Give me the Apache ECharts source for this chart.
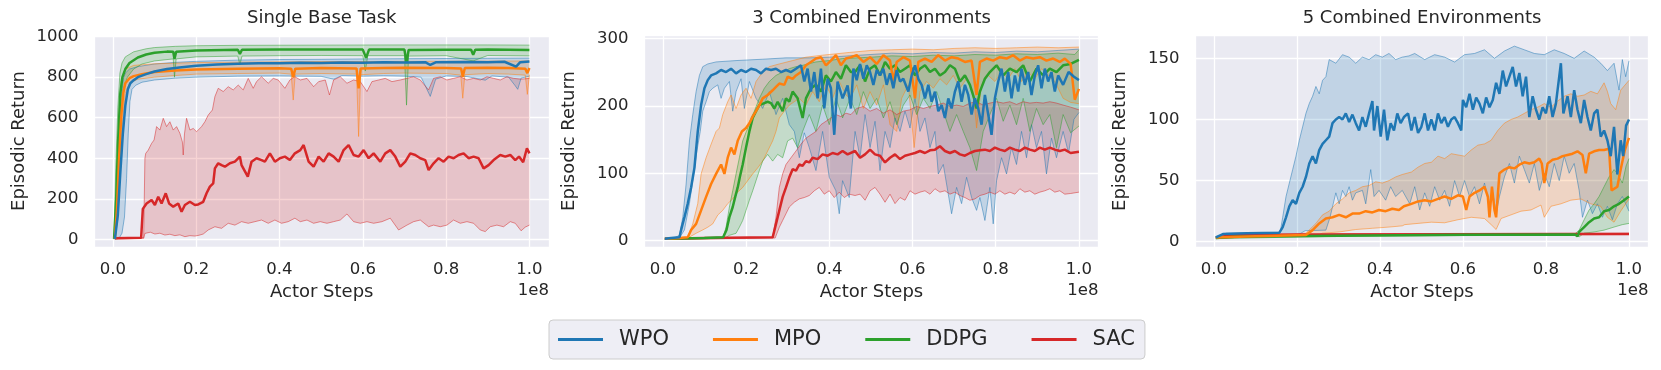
<!DOCTYPE html>
<html>
<head>
<meta charset="utf-8">
<script src="https://cdn.jsdelivr.net/npm/echarts@6/dist/echarts.min.js"></script>
<style>
  html, body { margin: 0; padding: 0; background: #fff; }
  #chart { width: 1661px; height: 370px; }
</style>
</head>
<body>
<div id="chart"></div>
<script>
// panel titles and algorithms
const titles = ['Single Base Task', '3 Combined Environments', '5 Combined Environments'];
const algos = ['WPO', 'MPO', 'DDPG', 'SAC'];
const colors = { WPO: '#1f77b4', MPO: '#ff7f0e', DDPG: '#2ca02c', SAC: '#d62728' };

// ---- Panel 1: Single Base Task  ([actor steps / 1e8, return])
const p1WpoMean = [[0.005,2],[0.012,120],[0.018,330],[0.024,520],[0.03,660],[0.036,740],[0.042,770],[0.05,785],[0.06,800],[0.08,815],[0.1,828],[0.13,840],[0.16,848],[0.2,856],[0.25,862],[0.3,866],[0.35,868],[0.4,869],[0.45,871],[0.5,870],[0.55,872],[0.6,871],[0.65,873],[0.7,872],[0.75,874],[0.762,860],[0.775,873],[0.85,875],[0.9,874],[0.94,876],[0.968,852],[0.978,874],[1.0,877]];
const p1WpoHi = [[0.005,2],[0.01,250],[0.015,520],[0.02,700],[0.025,790],[0.03,820],[0.04,840],[0.06,852],[0.1,865],[0.15,873],[0.2,878],[0.3,884],[0.4,887],[0.5,888],[0.6,890],[0.7,891],[0.8,892],[0.9,893],[1.0,894]];
const p1WpoLo = [[0.005,0],[0.015,5],[0.022,30],[0.028,110],[0.033,300],[0.037,520],[0.041,680],[0.046,740],[0.055,760],[0.07,775],[0.1,786],[0.15,795],[0.2,800],[0.3,805],[0.4,806],[0.5,804],[0.53,790],[0.55,808],[0.6,805],[0.65,807],[0.7,805],[0.74,800],[0.762,705],[0.775,790],[0.8,806],[0.85,803],[0.894,785],[0.91,806],[0.95,800],[0.965,760],[0.972,740],[0.98,795],[1.0,805]];

const p1MpoMean = [[0.005,2],[0.01,150],[0.015,400],[0.02,600],[0.025,720],[0.03,770],[0.04,795],[0.05,805],[0.07,815],[0.1,825],[0.15,833],[0.2,838],[0.3,842],[0.4,844],[0.428,842],[0.433,800],[0.438,842],[0.5,845],[0.585,843],[0.59,745],[0.595,843],[0.65,845],[0.7,846],[0.8,845],[0.836,843],[0.84,802],[0.845,845],[0.9,846],[0.95,845],[0.99,842],[0.995,820],[1.0,845]];
const p1MpoHi = [[0.005,2],[0.01,350],[0.015,620],[0.02,780],[0.03,840],[0.05,858],[0.1,866],[0.2,872],[0.3,874],[0.5,877],[0.7,878],[0.9,879],[1.0,880]];
const p1MpoLo = [[0.005,0],[0.012,100],[0.018,380],[0.024,600],[0.03,720],[0.04,770],[0.06,790],[0.1,800],[0.15,808],[0.2,815],[0.3,818],[0.4,820],[0.428,815],[0.433,687],[0.438,815],[0.5,818],[0.585,815],[0.59,507],[0.595,812],[0.65,818],[0.7,820],[0.8,818],[0.835,810],[0.84,696],[0.845,812],[0.9,818],[0.95,815],[0.99,810],[0.995,715],[1.0,812]];

const p1DdpgMean = [[0.003,2],[0.008,200],[0.013,500],[0.018,720],[0.023,800],[0.03,840],[0.04,870],[0.06,897],[0.08,912],[0.1,920],[0.13,926],[0.145,925],[0.148,890],[0.152,925],[0.2,932],[0.3,935],[0.305,915],[0.31,935],[0.4,937],[0.5,937],[0.6,936],[0.608,895],[0.615,936],[0.7,936],[0.705,870],[0.71,934],[0.8,935],[0.86,935],[0.865,910],[0.87,935],[0.9,936],[1.0,934]];
const p1DdpgHi = [[0.003,2],[0.007,350],[0.012,650],[0.017,820],[0.022,870],[0.03,900],[0.05,925],[0.08,940],[0.1,946],[0.15,952],[0.2,955],[0.3,957],[0.5,958],[0.7,959],[0.9,959],[1.0,958]];
const p1DdpgLo = [[0.003,0],[0.01,120],[0.015,400],[0.02,620],[0.025,740],[0.035,800],[0.05,840],[0.07,865],[0.1,880],[0.145,890],[0.148,800],[0.152,890],[0.2,900],[0.3,904],[0.305,860],[0.31,904],[0.4,906],[0.5,907],[0.6,906],[0.606,830],[0.612,906],[0.7,906],[0.705,662],[0.71,904],[0.8,906],[0.865,880],[0.9,907],[1.0,905]];

const p1SacMean = [[0.005,5],[0.068,8],[0.072,150],[0.081,177],[0.093,194],[0.101,169],[0.109,210],[0.117,177],[0.127,227],[0.135,177],[0.145,161],[0.157,177],[0.165,136],[0.173,169],[0.185,185],[0.197,169],[0.205,172],[0.217,185],[0.225,227],[0.233,260],[0.241,276],[0.245,350],[0.253,375],[0.261,366],[0.269,358],[0.281,375],[0.293,383],[0.305,408],[0.309,366],[0.324,309],[0.333,383],[0.345,400],[0.357,391],[0.365,383],[0.377,424],[0.389,383],[0.401,400],[0.413,408],[0.425,391],[0.437,424],[0.45,440],[0.458,465],[0.47,383],[0.482,358],[0.494,408],[0.506,383],[0.518,424],[0.53,408],[0.542,383],[0.554,440],[0.566,465],[0.578,416],[0.59,408],[0.602,440],[0.614,400],[0.626,424],[0.642,383],[0.654,424],[0.666,440],[0.678,408],[0.69,358],[0.702,383],[0.714,424],[0.726,416],[0.738,400],[0.75,391],[0.758,342],[0.77,375],[0.782,400],[0.794,383],[0.806,408],[0.818,400],[0.83,416],[0.842,424],[0.854,400],[0.866,408],[0.878,400],[0.89,350],[0.902,366],[0.914,391],[0.93,416],[0.942,408],[0.954,416],[0.966,391],[0.975,408],[0.985,380],[0.994,449],[1.0,424]];
const p1SacHi = [[0.005,5],[0.074,8],[0.077,400],[0.079,424],[0.085,440],[0.093,473],[0.099,490],[0.105,556],[0.113,539],[0.121,597],[0.129,556],[0.137,580],[0.145,539],[0.153,556],[0.161,523],[0.167,480],[0.169,416],[0.172,520],[0.177,597],[0.185,539],[0.193,547],[0.201,531],[0.213,556],[0.221,580],[0.229,613],[0.239,638],[0.245,704],[0.253,745],[0.265,729],[0.277,753],[0.289,737],[0.301,761],[0.313,737],[0.325,794],[0.337,745],[0.345,778],[0.357,802],[0.373,770],[0.385,794],[0.397,786],[0.413,745],[0.425,786],[0.437,802],[0.45,786],[0.466,794],[0.482,753],[0.494,778],[0.51,786],[0.52,712],[0.53,786],[0.546,802],[0.562,770],[0.578,786],[0.594,778],[0.61,729],[0.622,778],[0.638,786],[0.654,794],[0.67,778],[0.69,786],[0.706,794],[0.722,802],[0.738,786],[0.758,737],[0.77,794],[0.786,802],[0.802,786],[0.818,794],[0.834,802],[0.85,786],[0.866,794],[0.882,786],[0.898,802],[0.914,794],[0.93,786],[0.946,802],[0.962,794],[0.98,790],[1.0,794]];
const p1SacLo = [[0.005,2],[0.074,5],[0.077,29],[0.09,35],[0.101,26],[0.113,30],[0.125,21],[0.137,25],[0.149,18],[0.161,22],[0.173,13],[0.185,18],[0.197,16],[0.207,20],[0.217,26],[0.229,46],[0.245,62],[0.261,54],[0.277,79],[0.293,70],[0.309,87],[0.325,79],[0.341,87],[0.357,95],[0.373,79],[0.389,95],[0.405,79],[0.421,87],[0.437,104],[0.45,87],[0.466,95],[0.482,79],[0.498,87],[0.514,79],[0.53,87],[0.546,95],[0.562,125],[0.578,87],[0.594,79],[0.61,87],[0.626,79],[0.646,87],[0.666,104],[0.686,46],[0.706,70],[0.722,87],[0.738,95],[0.758,62],[0.77,70],[0.786,62],[0.802,70],[0.818,95],[0.834,79],[0.85,87],[0.866,79],[0.882,46],[0.894,38],[0.906,62],[0.922,70],[0.938,62],[0.954,87],[0.966,79],[0.98,42],[0.99,60],[1.0,70]];

// ---- Panel 2: 3 Combined Environments
const p2WpoMean = [[0.005,3],[0.02,4],[0.04,5],[0.044,16],[0.052,35],[0.06,55],[0.068,79],[0.076,108],[0.084,162],[0.092,201],[0.1,226],[0.108,238],[0.116,245],[0.128,248],[0.14,253],[0.152,250],[0.164,255],[0.176,248],[0.188,253],[0.2,250],[0.212,255],[0.224,253],[0.236,248],[0.248,255],[0.26,253],[0.272,255],[0.284,250],[0.296,253],[0.308,250],[0.32,255],[0.332,260],[0.34,236],[0.348,255],[0.356,221],[0.364,250],[0.372,211],[0.38,255],[0.388,196],[0.396,240],[0.404,226],[0.412,157],[0.42,236],[0.432,211],[0.444,230],[0.452,196],[0.458,255],[0.466,238],[0.474,262],[0.482,240],[0.49,260],[0.498,250],[0.506,231],[0.514,253],[0.522,245],[0.53,255],[0.538,231],[0.546,248],[0.554,226],[0.562,253],[0.57,236],[0.578,240],[0.59,221],[0.598,245],[0.606,260],[0.614,240],[0.622,231],[0.63,211],[0.638,231],[0.646,206],[0.654,221],[0.662,192],[0.67,201],[0.678,182],[0.686,211],[0.694,196],[0.702,221],[0.71,236],[0.718,206],[0.726,231],[0.734,216],[0.742,187],[0.75,211],[0.758,196],[0.766,172],[0.774,216],[0.782,187],[0.79,157],[0.798,211],[0.806,236],[0.814,255],[0.822,221],[0.83,250],[0.838,211],[0.846,245],[0.854,221],[0.862,255],[0.87,231],[0.878,250],[0.886,216],[0.894,245],[0.902,260],[0.91,226],[0.918,255],[0.926,236],[0.934,250],[0.942,221],[0.95,245],[0.962,231],[0.975,250],[0.988,243],[1.0,238]];
const p2WpoHi = [[0.005,3],[0.03,5],[0.04,8],[0.048,35],[0.056,84],[0.064,148],[0.072,187],[0.08,221],[0.088,245],[0.096,258],[0.108,262],[0.128,265],[0.176,267],[0.24,269],[0.296,271],[0.352,271],[0.4,272],[0.448,274],[0.5,276],[0.55,278],[0.6,277],[0.65,279],[0.7,278],[0.75,280],[0.8,279],[0.85,281],[0.9,280],[0.95,282],[1.0,284]];
const p2WpoLo = [[0.005,2],[0.04,4],[0.052,16],[0.064,55],[0.073,94],[0.082,133],[0.09,162],[0.096,192],[0.104,206],[0.112,221],[0.12,226],[0.132,231],[0.14,211],[0.148,226],[0.16,236],[0.168,192],[0.176,221],[0.188,240],[0.196,196],[0.208,236],[0.224,211],[0.24,196],[0.256,221],[0.272,187],[0.288,211],[0.304,172],[0.316,162],[0.328,123],[0.34,160],[0.352,138],[0.368,104],[0.384,162],[0.4,94],[0.416,74],[0.424,40],[0.432,89],[0.448,64],[0.462,162],[0.474,123],[0.486,187],[0.498,138],[0.51,177],[0.522,104],[0.534,162],[0.546,138],[0.558,182],[0.57,162],[0.582,192],[0.594,167],[0.606,211],[0.618,162],[0.63,182],[0.642,138],[0.654,162],[0.662,99],[0.674,113],[0.686,69],[0.694,40],[0.706,79],[0.718,55],[0.73,94],[0.742,64],[0.754,45],[0.762,64],[0.774,30],[0.786,79],[0.794,25],[0.802,89],[0.814,123],[0.826,99],[0.838,138],[0.85,113],[0.862,162],[0.874,123],[0.886,172],[0.898,138],[0.91,162],[0.922,99],[0.934,152],[0.946,123],[0.962,162],[0.975,130],[0.988,180],[1.0,190]];

const p2MpoMean = [[0.005,3],[0.04,4],[0.06,5],[0.068,16],[0.08,25],[0.092,45],[0.104,65],[0.116,84],[0.128,99],[0.14,113],[0.148,99],[0.156,123],[0.164,138],[0.172,128],[0.18,148],[0.19,162],[0.2,167],[0.208,174],[0.216,184],[0.224,192],[0.232,201],[0.24,211],[0.252,216],[0.264,223],[0.272,228],[0.28,233],[0.292,231],[0.3,243],[0.312,240],[0.32,245],[0.332,250],[0.344,260],[0.356,265],[0.368,270],[0.38,272],[0.392,260],[0.404,267],[0.416,275],[0.428,260],[0.44,270],[0.452,272],[0.466,275],[0.482,265],[0.498,272],[0.514,262],[0.53,275],[0.546,267],[0.554,236],[0.562,265],[0.578,272],[0.594,267],[0.606,211],[0.614,265],[0.63,270],[0.646,265],[0.662,275],[0.678,267],[0.694,272],[0.71,270],[0.726,265],[0.742,267],[0.754,216],[0.762,265],[0.778,270],[0.794,267],[0.81,272],[0.826,270],[0.842,275],[0.858,267],[0.874,272],[0.89,270],[0.906,272],[0.922,267],[0.938,270],[0.954,265],[0.966,270],[0.98,262],[0.99,209],[1.0,225]];
const p2MpoHi = [[0.005,3],[0.06,5],[0.072,25],[0.084,55],[0.092,99],[0.104,123],[0.116,143],[0.128,162],[0.136,167],[0.144,187],[0.156,206],[0.164,216],[0.176,196],[0.188,216],[0.2,226],[0.212,211],[0.224,236],[0.24,250],[0.256,258],[0.28,262],[0.312,267],[0.344,272],[0.384,275],[0.416,277],[0.448,279],[0.5,282],[0.55,283],[0.6,284],[0.65,283],[0.7,285],[0.75,286],[0.8,285],[0.85,286],[0.9,287],[0.95,286],[1.0,287]];
const p2MpoLo = [[0.005,2],[0.06,4],[0.08,11],[0.096,16],[0.108,20],[0.12,25],[0.132,38],[0.144,45],[0.156,55],[0.168,62],[0.18,72],[0.192,79],[0.204,89],[0.216,99],[0.228,108],[0.24,118],[0.252,133],[0.264,148],[0.272,162],[0.28,182],[0.292,192],[0.304,201],[0.316,206],[0.328,211],[0.344,201],[0.36,221],[0.376,206],[0.392,231],[0.408,211],[0.424,236],[0.44,216],[0.45,211],[0.466,231],[0.482,196],[0.498,221],[0.514,201],[0.53,231],[0.546,172],[0.562,162],[0.574,211],[0.59,231],[0.604,138],[0.618,221],[0.634,236],[0.65,226],[0.666,240],[0.682,231],[0.698,245],[0.714,226],[0.73,240],[0.746,221],[0.754,167],[0.766,231],[0.782,245],[0.798,236],[0.814,250],[0.83,240],[0.846,255],[0.862,236],[0.878,250],[0.894,240],[0.91,255],[0.926,245],[0.942,236],[0.962,211],[0.98,205],[1.0,203]];

const p2DdpgMean = [[0.005,3],[0.1,4],[0.145,5],[0.153,16],[0.16,35],[0.168,50],[0.174,65],[0.18,79],[0.185,94],[0.192,113],[0.2,138],[0.208,162],[0.216,182],[0.224,192],[0.232,201],[0.244,204],[0.252,206],[0.26,204],[0.268,196],[0.276,206],[0.288,192],[0.296,211],[0.304,206],[0.312,221],[0.324,211],[0.336,182],[0.344,211],[0.356,226],[0.368,231],[0.38,221],[0.392,245],[0.404,236],[0.416,250],[0.428,240],[0.44,260],[0.452,250],[0.462,250],[0.474,260],[0.486,236],[0.498,255],[0.51,260],[0.522,245],[0.534,265],[0.546,255],[0.558,260],[0.57,250],[0.582,255],[0.594,260],[0.606,245],[0.618,255],[0.63,260],[0.642,250],[0.654,255],[0.666,245],[0.678,250],[0.69,260],[0.702,255],[0.714,236],[0.726,245],[0.738,231],[0.748,211],[0.754,196],[0.762,221],[0.774,240],[0.786,250],[0.802,260],[0.818,245],[0.834,255],[0.85,250],[0.866,260],[0.882,236],[0.898,255],[0.914,245],[0.93,255],[0.946,250],[0.962,260],[0.98,262],[1.0,268]];
const p2DdpgHi = [[0.005,3],[0.145,5],[0.152,20],[0.16,50],[0.168,74],[0.176,99],[0.184,123],[0.192,148],[0.204,167],[0.212,182],[0.22,192],[0.232,211],[0.244,226],[0.256,236],[0.272,245],[0.288,250],[0.304,255],[0.32,258],[0.336,260],[0.368,265],[0.4,267],[0.432,270],[0.5,272],[0.55,274],[0.6,273],[0.65,275],[0.7,274],[0.75,276],[0.8,275],[0.85,277],[0.9,276],[0.95,278],[0.99,276],[1.0,283]];
const p2DdpgLo = [[0.005,2],[0.15,4],[0.16,8],[0.176,11],[0.184,20],[0.192,30],[0.2,45],[0.208,60],[0.216,74],[0.224,89],[0.232,104],[0.24,118],[0.252,128],[0.264,118],[0.276,128],[0.288,123],[0.3,148],[0.312,152],[0.324,138],[0.336,162],[0.352,187],[0.368,162],[0.384,201],[0.4,172],[0.416,211],[0.432,182],[0.45,211],[0.466,187],[0.482,221],[0.498,196],[0.514,211],[0.53,182],[0.546,206],[0.562,172],[0.578,201],[0.594,216],[0.61,187],[0.626,211],[0.642,196],[0.658,221],[0.674,192],[0.69,162],[0.706,187],[0.722,162],[0.738,138],[0.754,104],[0.77,162],[0.786,187],[0.802,211],[0.818,177],[0.834,201],[0.85,172],[0.866,211],[0.882,162],[0.898,196],[0.914,172],[0.93,187],[0.946,138],[0.962,187],[0.98,160],[1.0,170]];

const p2SacMean = [[0.005,3],[0.1,4],[0.264,5],[0.272,25],[0.28,45],[0.288,65],[0.296,79],[0.304,94],[0.312,106],[0.32,104],[0.328,113],[0.336,111],[0.344,118],[0.352,116],[0.36,123],[0.372,121],[0.384,128],[0.396,126],[0.408,130],[0.42,128],[0.432,133],[0.444,128],[0.462,133],[0.474,123],[0.486,128],[0.498,135],[0.51,128],[0.522,126],[0.534,116],[0.546,123],[0.558,128],[0.57,121],[0.582,126],[0.594,128],[0.606,130],[0.618,133],[0.63,130],[0.642,134],[0.654,135],[0.666,140],[0.678,133],[0.69,130],[0.702,133],[0.714,128],[0.726,126],[0.738,130],[0.75,133],[0.762,134],[0.774,135],[0.786,133],[0.798,138],[0.81,135],[0.822,133],[0.834,138],[0.846,135],[0.858,133],[0.87,138],[0.882,135],[0.894,133],[0.906,138],[0.918,135],[0.93,138],[0.942,135],[0.954,133],[0.966,135],[0.98,130],[1.0,132]];
const p2SacHi = [[0.005,3],[0.264,5],[0.272,35],[0.28,79],[0.288,99],[0.296,113],[0.308,123],[0.32,133],[0.332,143],[0.344,152],[0.356,157],[0.368,162],[0.38,172],[0.392,177],[0.404,182],[0.416,187],[0.428,184],[0.44,189],[0.452,187],[0.466,196],[0.482,199],[0.498,192],[0.514,196],[0.53,189],[0.546,194],[0.562,187],[0.578,192],[0.594,194],[0.61,199],[0.626,196],[0.642,199],[0.658,201],[0.674,204],[0.69,199],[0.706,201],[0.722,199],[0.738,204],[0.754,206],[0.77,201],[0.786,204],[0.802,206],[0.818,204],[0.834,206],[0.85,202],[0.866,206],[0.882,204],[0.898,205],[0.914,204],[0.93,206],[0.946,204],[0.962,201],[0.98,198],[1.0,194]];
const p2SacLo = [[0.005,2],[0.27,4],[0.28,20],[0.288,30],[0.296,40],[0.304,50],[0.316,57],[0.328,62],[0.34,64],[0.352,67],[0.364,74],[0.376,79],[0.388,69],[0.4,74],[0.412,64],[0.424,72],[0.436,64],[0.448,69],[0.462,67],[0.474,69],[0.486,60],[0.498,74],[0.51,79],[0.522,69],[0.534,57],[0.546,69],[0.558,55],[0.57,64],[0.582,60],[0.594,74],[0.606,69],[0.618,72],[0.63,74],[0.642,69],[0.654,77],[0.666,72],[0.678,74],[0.69,69],[0.702,72],[0.714,67],[0.726,64],[0.738,60],[0.75,62],[0.762,67],[0.774,69],[0.786,72],[0.798,69],[0.81,74],[0.822,69],[0.834,72],[0.846,69],[0.858,77],[0.87,72],[0.882,74],[0.894,69],[0.906,72],[0.918,74],[0.93,77],[0.942,72],[0.954,74],[0.966,69],[0.98,70],[1.0,72]];

// ---- Panel 3: 5 Combined Environments
const p3WpoMean = [[0.005,3.5],[0.022,6.3],[0.08,7],[0.158,7.4],[0.166,12],[0.174,20],[0.182,29],[0.19,34],[0.198,31],[0.206,40],[0.214,45],[0.222,53],[0.23,64],[0.238,70],[0.246,64],[0.254,75],[0.262,80],[0.27,83],[0.278,86],[0.286,97],[0.294,100],[0.302,102],[0.31,100],[0.318,105],[0.326,98],[0.334,104],[0.342,97],[0.35,91],[0.358,102],[0.366,94],[0.374,105],[0.382,115],[0.386,91],[0.394,111],[0.402,86],[0.41,108],[0.418,83],[0.426,97],[0.434,91],[0.442,105],[0.45,97],[0.458,102],[0.468,105],[0.476,91],[0.484,102],[0.492,89],[0.5,94],[0.508,105],[0.516,91],[0.524,100],[0.532,91],[0.54,105],[0.548,97],[0.556,102],[0.564,94],[0.572,100],[0.58,102],[0.588,97],[0.596,91],[0.6,116],[0.608,110],[0.616,121],[0.624,108],[0.632,118],[0.64,113],[0.648,105],[0.656,118],[0.664,110],[0.672,116],[0.68,130],[0.688,121],[0.696,140],[0.704,127],[0.712,135],[0.72,143],[0.728,127],[0.736,138],[0.744,119],[0.752,135],[0.76,102],[0.768,119],[0.776,108],[0.784,100],[0.792,110],[0.8,105],[0.808,119],[0.816,102],[0.824,113],[0.832,135],[0.836,146],[0.842,105],[0.852,119],[0.86,102],[0.868,124],[0.876,108],[0.884,97],[0.892,116],[0.9,102],[0.908,91],[0.916,105],[0.924,108],[0.932,86],[0.94,91],[0.948,83],[0.956,70],[0.964,94],[0.972,55],[0.98,83],[0.986,70],[0.993,95],[1.0,100]];
const p3WpoHi = [[0.005,4],[0.03,7],[0.16,7.8],[0.166,20],[0.174,37],[0.182,48],[0.19,59],[0.198,70],[0.206,83],[0.214,94],[0.222,105],[0.23,113],[0.238,119],[0.246,127],[0.254,121],[0.262,132],[0.27,135],[0.278,149],[0.294,146],[0.31,153],[0.326,151],[0.342,146],[0.358,151],[0.374,149],[0.39,153],[0.406,151],[0.422,154],[0.438,149],[0.454,151],[0.47,152],[0.484,154],[0.508,149],[0.532,153],[0.556,151],[0.58,147],[0.604,153],[0.628,154],[0.652,157],[0.676,150],[0.7,156],[0.724,160],[0.748,157],[0.772,154],[0.796,153],[0.82,157],[0.844,154],[0.868,150],[0.892,156],[0.916,151],[0.932,146],[0.948,140],[0.964,146],[0.976,124],[0.984,149],[0.992,135],[1.0,148]];
const p3WpoLo = [[0.005,3],[0.1,4.5],[0.2,5],[0.22,9],[0.27,9.5],[0.28,20],[0.294,40],[0.302,31],[0.31,42],[0.318,37],[0.326,45],[0.334,34],[0.342,40],[0.358,42],[0.366,31],[0.378,59],[0.386,37],[0.398,42],[0.414,34],[0.426,45],[0.438,37],[0.454,42],[0.472,31],[0.484,45],[0.496,26],[0.508,40],[0.52,29],[0.532,45],[0.544,34],[0.556,42],[0.568,29],[0.58,50],[0.592,37],[0.604,50],[0.616,37],[0.628,45],[0.64,31],[0.652,48],[0.664,29],[0.672,40],[0.68,23],[0.688,37],[0.7,53],[0.712,64],[0.724,48],[0.736,70],[0.748,59],[0.76,48],[0.772,64],[0.784,42],[0.796,56],[0.808,45],[0.82,64],[0.832,50],[0.844,70],[0.856,56],[0.868,64],[0.88,42],[0.888,20],[0.9,34],[0.912,23],[0.924,31],[0.936,20],[0.948,29],[0.96,18],[0.972,31],[0.984,37],[1.0,25]];

const p3MpoMean = [[0.005,3.5],[0.1,4.5],[0.222,5.5],[0.238,9.5],[0.254,15],[0.27,19],[0.286,20],[0.302,22],[0.318,20],[0.334,23],[0.35,23],[0.366,25],[0.382,24],[0.398,26],[0.414,25],[0.43,27],[0.446,26],[0.458,29],[0.476,31],[0.492,33],[0.508,34],[0.524,33],[0.54,35],[0.556,37],[0.572,35],[0.588,38],[0.6,37],[0.608,26],[0.616,37],[0.628,40],[0.64,42],[0.652,45],[0.66,37],[0.664,20],[0.67,45],[0.676,26],[0.68,20],[0.688,56],[0.7,59],[0.712,61],[0.724,60],[0.736,63],[0.748,65],[0.76,64],[0.772,65],[0.784,68],[0.79,64],[0.796,48],[0.804,64],[0.816,67],[0.828,68],[0.84,70],[0.852,71],[0.864,72],[0.876,74],[0.888,71],[0.896,56],[0.904,72],[0.916,74],[0.928,75],[0.94,75],[0.952,76],[0.958,42],[0.972,45],[0.98,59],[0.99,75],[1.0,85]];
const p3MpoHi = [[0.005,3.5],[0.222,7],[0.246,15],[0.262,22],[0.278,25],[0.294,31],[0.31,35],[0.326,40],[0.342,42],[0.358,45],[0.374,46],[0.39,49],[0.406,48],[0.422,50],[0.438,53],[0.454,55],[0.476,57],[0.492,61],[0.508,64],[0.524,65],[0.54,70],[0.556,68],[0.572,72],[0.588,71],[0.604,70],[0.62,75],[0.636,79],[0.652,80],[0.668,83],[0.684,91],[0.7,97],[0.716,100],[0.732,102],[0.748,105],[0.764,108],[0.78,110],[0.796,113],[0.812,110],[0.828,115],[0.844,119],[0.86,121],[0.876,119],[0.892,120],[0.908,123],[0.924,121],[0.94,130],[0.948,123],[0.956,113],[0.968,108],[0.98,124],[1.0,132]];
const p3MpoLo = [[0.005,3],[0.25,5],[0.262,7],[0.302,8],[0.342,10],[0.382,11],[0.422,12],[0.454,13],[0.46,14],[0.492,15],[0.524,16],[0.556,15.5],[0.588,18],[0.62,20],[0.652,19],[0.668,14],[0.68,10],[0.692,19],[0.716,22],[0.74,25],[0.764,26],[0.788,30],[0.796,20],[0.812,29],[0.836,31],[0.86,34],[0.884,35],[0.908,31],[0.932,29],[0.948,20],[0.964,16],[0.98,25],[1.0,35]];

const p3DdpgMean = [[0.005,3],[0.05,4],[0.3,5],[0.6,5.8],[0.87,6],[0.876,4.5],[0.88,8],[0.892,12],[0.904,16],[0.916,19],[0.928,20],[0.94,25],[0.952,26],[0.964,29],[0.976,31],[0.988,34],[1.0,37]];
const p3DdpgHi = [[0.005,3.5],[0.3,5.5],[0.87,6.5],[0.88,9.5],[0.892,18],[0.904,26],[0.916,31],[0.928,37],[0.94,45],[0.952,53],[0.964,59],[0.972,56],[0.984,48],[0.993,62],[1.0,68]];
const p3DdpgLo = [[0.005,2.5],[0.3,4.5],[0.87,5.5],[0.88,4],[0.892,7],[0.916,8],[0.94,9.5],[0.964,12],[0.984,14],[1.0,15]];

const p3SacMean = [[0.005,3.5],[0.05,5.5],[0.3,6],[0.6,6.2],[1.0,6.4]];
const p3SacHi = [[0.005,4],[0.05,6],[0.3,6.5],[0.6,6.8],[1.0,7]];
const p3SacLo = [[0.005,3],[0.05,5],[0.3,5.5],[0.6,5.8],[1.0,6]];

// layout of the three panels (pixels) and their y ranges
const panels = [
  { left: 94.5, width: 454.5, ymin: -38, ymax: 1008, ystep: 200,
    runs: { WPO: [p1WpoMean, p1WpoLo, p1WpoHi], MPO: [p1MpoMean, p1MpoLo, p1MpoHi], DDPG: [p1DdpgMean, p1DdpgLo, p1DdpgHi], SAC: [p1SacMean, p1SacLo, p1SacHi] } },
  { left: 644.5, width: 454, ymin: -9.3, ymax: 304.9, ystep: 100,
    runs: { WPO: [p2WpoMean, p2WpoLo, p2WpoHi], MPO: [p2MpoMean, p2MpoLo, p2MpoHi], DDPG: [p2DdpgMean, p2DdpgLo, p2DdpgHi], SAC: [p2SacMean, p2SacLo, p2SacHi] } },
  { left: 1195.5, width: 453, ymin: -4.3, ymax: 169.1, ystep: 50,
    runs: { WPO: [p3WpoMean, p3WpoLo, p3WpoHi], MPO: [p3MpoMean, p3MpoLo, p3MpoHi], DDPG: [p3DdpgMean, p3DdpgLo, p3DdpgHi], SAC: [p3SacMean, p3SacLo, p3SacHi] } }
];

const FONT = '"DejaVu Sans", sans-serif';
const TXT = '#262626';
const TOP = 35, HEIGHT = 212;

const onStep = (v, step) => Math.abs(v / step - Math.round(v / step)) < 1e-6;

const grid = [], xAxis = [], yAxis = [], graphic = [];
const bands = [], thin = [], means = [];

panels.forEach((p, i) => {
  grid.push({ left: p.left, top: TOP, width: p.width, height: HEIGHT, show: true,
    backgroundColor: '#eaeaf2', borderWidth: 0, outerBoundsMode: 'none' });

  xAxis.push({ gridIndex: i, type: 'value', min: -0.044, max: 1.047, minInterval: 0.2, maxInterval: 0.2,
    name: 'Actor Steps', nameLocation: 'middle', nameGap: 36,
    nameTextStyle: { fontSize: 18, color: TXT, fontFamily: FONT },
    axisLine: { show: false }, axisTick: { show: false },
    splitLine: { lineStyle: { color: '#ffffff', width: 1.3 } },
    axisLabel: { margin: 14, fontSize: 16.5, color: TXT, fontFamily: FONT,
      formatter: v => onStep(v, 0.2) ? v.toFixed(1) : '' } });

  yAxis.push({ gridIndex: i, type: 'value', min: p.ymin, max: p.ymax, minInterval: p.ystep, maxInterval: p.ystep,
    name: 'Episodic Return', nameLocation: 'middle', nameGap: 66, nameRotate: 90,
    nameTextStyle: { fontSize: 18, color: TXT, fontFamily: FONT },
    axisLine: { show: false }, axisTick: { show: false },
    splitLine: { lineStyle: { color: '#ffffff', width: 1.3 } },
    axisLabel: { margin: 16, fontSize: 16.5, color: TXT, fontFamily: FONT,
      formatter: v => onStep(v, p.ystep) ? String(Math.round(v)) : '' } });

  // panel title and the x scale note
  graphic.push({ type: 'text', x: p.left + p.width / 2, y: 18,
    style: { text: titles[i], fill: TXT, font: '18px ' + FONT, align: 'center', verticalAlign: 'middle' } });
  graphic.push({ type: 'text', x: p.left + p.width, y: 291,
    style: { text: '1e8', fill: TXT, font: '16.5px ' + FONT, align: 'right', verticalAlign: 'middle' } });

  algos.forEach(name => {
    const [mean, lo, hi] = p.runs[name];
    const c = colors[name];
    bands.push({ type: 'custom', name: name + ' band', xAxisIndex: i, yAxisIndex: i, silent: true,
      data: [[0.5, 0]],
      renderItem: (params, api) => {
        const pts = lo.map(d => api.coord(d)).concat(hi.slice().reverse().map(d => api.coord(d)));
        return { type: 'polygon', shape: { points: pts }, style: { fill: c, opacity: 0.2 } };
      } });
    [lo, hi].forEach((d, k) => thin.push({ type: 'line', name: name + (k ? ' hi' : ' lo'), xAxisIndex: i, yAxisIndex: i,
      data: d, showSymbol: false, symbol: 'none', silent: true,
      lineStyle: { color: c, width: 1, opacity: 0.5 } }));
  });
  // mean lines, WPO last so it sits on top
  algos.slice().reverse().forEach(name => {
    means.push({ type: 'line', name: name, xAxisIndex: i, yAxisIndex: i, data: p.runs[name][0],
      showSymbol: false, symbol: 'none', color: colors[name],
      lineStyle: { color: colors[name], width: 2.5 } });
  });
});

const chart = echarts.init(document.getElementById('chart'));
chart.setOption({
  animation: false,
  backgroundColor: '#ffffff',
  grid, xAxis, yAxis, graphic,
  legend: {
    data: algos.map(n => ({ name: n, itemStyle: { color: colors[n] } })),
    left: 549, top: 320, orient: 'horizontal',
    icon: 'rect', itemWidth: 45, itemHeight: 3, itemGap: 44,
    padding: [7, 10, 7, 9],
    backgroundColor: 'rgba(234,234,242,0.8)', borderColor: '#cccccc', borderWidth: 1, borderRadius: 4,
    textStyle: { fontSize: 21, color: TXT, fontFamily: FONT, lineHeight: 25, padding: [0, 0, 0, 11] }
  },
  series: [...bands, ...thin, ...means]
});
</script>
</body>
</html>
